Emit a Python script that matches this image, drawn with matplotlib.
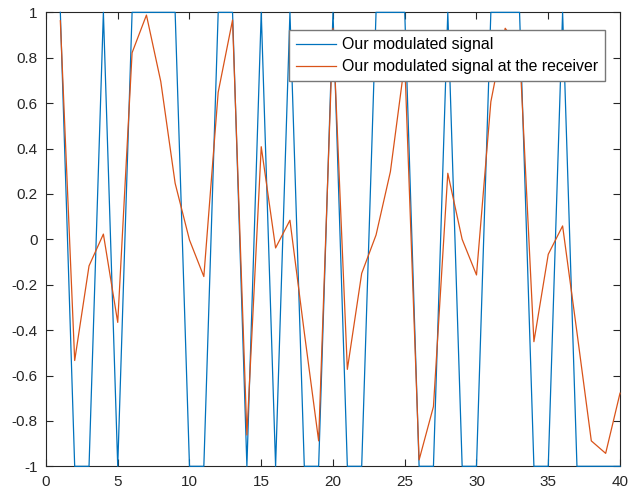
## Transmitted vs received modulated signal, MATLAB-style figure

import numpy as np
import matplotlib.pyplot as plt
from matplotlib.ticker import FuncFormatter

plt.rcParams['font.family'] = ['Liberation Sans', 'DejaVu Sans']
plt.rcParams['axes.unicode_minus'] = False

# sample index
n = np.arange(1, 41)

# transmitted symbols (+1 / -1)
sent = [1, -1, -1, 1, -1, 1, 1, 1, 1, -1,
        -1, 1, 1, -1, 1, -1, 1, -1, -1, 1,
        -1, -1, 1, 1, 1, -1, -1, 1, -1, -1,
        1, 1, 1, -1, -1, 1, -1, -1, -1, -1]

# received samples
received = [0.963, -0.534, -0.117, 0.023, -0.366, 0.822, 0.988, 0.695, 0.247, -0.003,
            -0.164, 0.648, 0.966, -0.862, 0.408, -0.038, 0.084, -0.41, -0.888, 0.93,
            -0.573, -0.150, 0.019, 0.298, 0.78, -0.972, -0.737, 0.291, 0.0, -0.157,
            0.606, 0.93, 0.84, -0.451, -0.066, 0.059, -0.41, -0.888, -0.943, -0.678]

labels = ('Our modulated signal', 'Our modulated signal at the receiver')

fig = plt.figure(figsize=(6.29, 4.96), dpi=100)
ax = fig.add_axes([0.0731, 0.0599, 0.9126, 0.9152])

# lines sit on top of the box so the flat +-1 runs show over the spines
ax.plot(n, sent, color='#0072BD', lw=0.9, label=labels[0], clip_on=False, zorder=3)
ax.plot(n, received, color='#D95319', lw=0.9, label=labels[1], clip_on=False, zorder=3)

ax.set_xlim(0, 40)
ax.set_ylim(-1, 1)
ax.set_xticks(np.arange(0, 41, 5))
ax.set_yticks(np.linspace(-1, 1, 11))
ax.yaxis.set_major_formatter(FuncFormatter(lambda v, p: '%g' % round(v, 2)))

# MATLAB look: inward ticks on all four sides, dark grey box
for s in ax.spines.values():
    s.set_color('#262626')
    s.set_linewidth(0.8)
ax.tick_params(direction='in', top=True, right=True, length=5, width=0.8,
               colors='#262626', labelsize=11, pad=6)

leg = ax.legend(loc='upper right', bbox_to_anchor=(0.974, 0.961), fontsize=11.4,
                fancybox=False, framealpha=1, edgecolor='#777777',
                handlelength=2.55, handletextpad=0.35, borderpad=0.45,
                labelspacing=0.45, borderaxespad=0)
leg.get_frame().set_linewidth(1.0)
leg.set_zorder(5)

fig.savefig('out.png', dpi=100)
